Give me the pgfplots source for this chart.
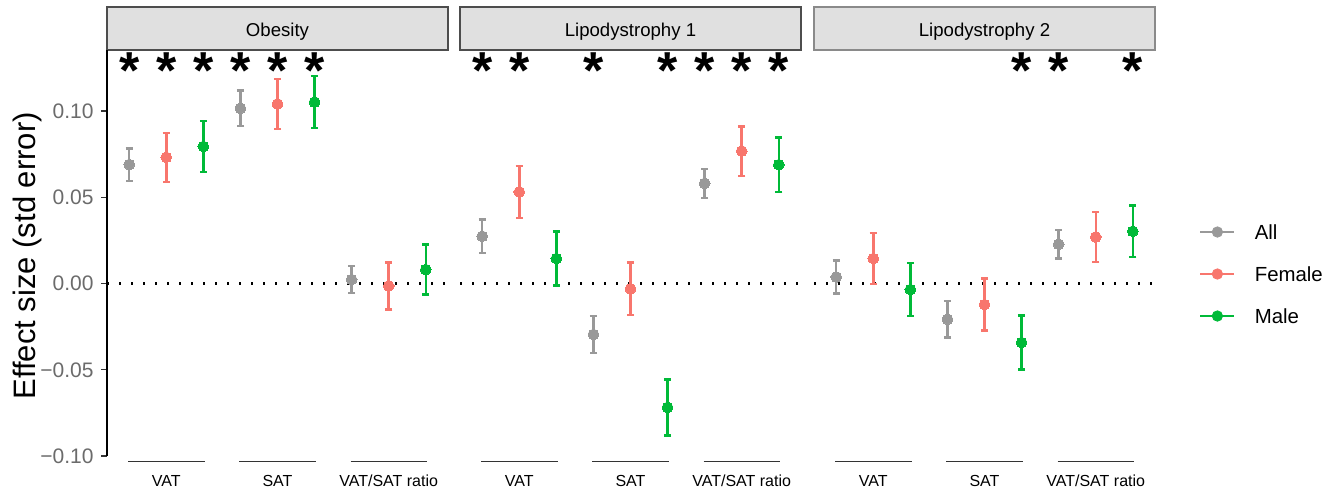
\documentclass[border=0pt]{standalone}
\usepackage{pgfplots}
\pgfplotsset{compat=1.18}
\usepackage{pgfplotstable}
\usepackage{fontspec}
\setmainfont{Liberation Sans}

\definecolor{cAll}{HTML}{999999}
\definecolor{cFemale}{HTML}{F8766D}
\definecolor{cMale}{HTML}{00BA38}
\definecolor{stripfill}{HTML}{E0E0E0}
\definecolor{stripdark}{HTML}{4D4D4D}
\definecolor{striplight}{HTML}{8A8A8A}
\definecolor{ticktext}{HTML}{6B6B6B}
\definecolor{segcol}{HTML}{333333}

% effect size (y) and standard error (e); x = dodged position within the facet
\pgfplotstableread{
x y e
1 0.0690 0.0094
4 0.1016 0.0104
7 0.0023 0.0079
}\obAll
\pgfplotstableread{
x y e
2 0.0732 0.0142
5 0.1041 0.0145
8 -0.0014 0.0137
}\obFemale
\pgfplotstableread{
x y e
3 0.0795 0.0147
6 0.1052 0.0150
9 0.0081 0.0145
}\obMale
\pgfplotstableread{
x y e
1 0.0274 0.0097
4 -0.0295 0.0108
7 0.0581 0.0084
}\lpAAll
\pgfplotstableread{
x y e
2 0.0531 0.0150
5 -0.0031 0.0153
8 0.0768 0.0143
}\lpAFemale
\pgfplotstableread{
x y e
3 0.0145 0.0157
6 -0.0718 0.0162
9 0.0689 0.0158
}\lpAMale
\pgfplotstableread{
x y e
1 0.0038 0.0095
4 -0.0207 0.0107
7 0.0228 0.0082
}\lpBAll
\pgfplotstableread{
x y e
2 0.0145 0.0148
5 -0.0122 0.0151
8 0.0270 0.0144
}\lpBFemale
\pgfplotstableread{
x y e
3 -0.0035 0.0154
6 -0.0342 0.0157
9 0.0303 0.0150
}\lpBMale

% significance markers
\pgfplotstableread{
x y
1 0.1278
2 0.1278
3 0.1278
4 0.1278
5 0.1278
6 0.1278
}\obStar
\pgfplotstableread{
x y
1 0.1278
2 0.1278
4 0.1278
6 0.1278
7 0.1278
8 0.1278
9 0.1278
}\lpAStar
\pgfplotstableread{
x y
6 0.1278
7 0.1278
9 0.1278
}\lpBStar

\pgfplotsset{
  panel/.style={
    scale only axis, width=170.5pt, height=205.85pt, anchor=south west,
    xmin=0.4, xmax=9.6, ymin=-0.1033, ymax=0.1354,
    clip=false,
    axis line style={draw=none},
    xtick={2,5,8}, xticklabels={VAT,SAT,VAT/SAT ratio},
    xtick style={draw=none},
    xticklabel style={font=\fontsize{8}{9.6}\selectfont, text=black, anchor=base, inner sep=0pt, yshift=-9.3pt},
    ytick pos=left, tick align=outside, major tick length=3pt,
    ytick style={segcol, line width=0.6pt},
    yticklabel style={font=\fontsize{10.5}{12}\selectfont, text=ticktext, anchor=east, inner sep=0pt, xshift=-3.5pt},
  },
  est/.style={
    only marks, mark=*, mark size=2.7pt, color=#1,
    mark options={fill=#1, draw=#1, line width=0pt},
    legend image code/.code={\draw[#1, line width=1.4pt] (0pt,0pt) -- (17pt,0pt); \fill[#1] (8.5pt,0pt) circle (2.6pt);},
    error bars/.cd, y dir=both, y explicit,
    error bar style={line width=1.2pt, #1},
    error mark options={rotate=90, mark size=1.8pt, line width=1.2pt, #1},
  },
  star/.style={
    only marks, mark=*, mark size=0pt, mark options={draw=none, fill=none}, forget plot,
    nodes near coords={*},
    every node near coord/.style={font=\fontsize{26}{26}\selectfont\bfseries, text=black, anchor=base, inner sep=0pt, yshift=-12.5pt},
  },
  zeroline/.style={black, line width=1.1pt, dash pattern=on 1.1pt off 4.9pt, forget plot},
}

\newcommand{\groupsegments}{%
  \draw[segcol, line width=0.6pt] (axis cs:0.97,-0.1033) -- (axis cs:3.04,-0.1033);
  \draw[segcol, line width=0.6pt] (axis cs:3.97,-0.1033) -- (axis cs:6.04,-0.1033);
  \draw[segcol, line width=0.6pt] (axis cs:6.97,-0.1033) -- (axis cs:9.04,-0.1033);
}

\begin{document}
\begin{tikzpicture}
\path[use as bounding box] (0pt,0pt) rectangle (668.5pt,247.5pt);

% ---------------- Obesity ----------------
\begin{axis}[panel, at={(53.5pt,16.65pt)},
  ytick={-0.1,-0.05,0,0.05,0.1},
  yticklabels={−0.10,−0.05,0.00,0.05,0.10},
  ylabel={Effect size (std error)},
  ylabel style={at={(axis description cs:-0.2346,0.5)}, anchor=center, font=\fontsize{15.5}{18}\selectfont},
]
\draw[stripdark, fill=stripfill, line width=1.3pt] (rel axis cs:0,1) rectangle (rel axis cs:1,1.1044);
\node[anchor=base, font=\fontsize{9.3}{11}\selectfont, inner sep=0pt] at (rel axis cs:0.5,1.0323) {Obesity};
\draw[black, line width=1pt] (axis cs:0.4,-0.1) -- (axis cs:0.4,0.1354);
\groupsegments
\addplot[zeroline] coordinates {(0.4,0) (9.6,0)};
\addplot[est=cAll] table[x=x, y=y, y error=e] {\obAll};
\addplot[est=cFemale] table[x=x, y=y, y error=e] {\obFemale};
\addplot[est=cMale] table[x=x, y=y, y error=e] {\obMale};
\addplot[star] table[x=x, y=y] {\obStar};
\end{axis}

% ---------------- Lipodystrophy 1 ----------------
\begin{axis}[panel, at={(230pt,16.65pt)}, ytick=\empty]
\draw[stripdark, fill=stripfill, line width=1.3pt] (rel axis cs:0,1) rectangle (rel axis cs:1,1.1044);
\node[anchor=base, font=\fontsize{9.3}{11}\selectfont, inner sep=0pt] at (rel axis cs:0.5,1.0323) {Lipodystrophy 1};
\groupsegments
\addplot[zeroline] coordinates {(0.4,0) (9.6,0)};
\addplot[est=cAll] table[x=x, y=y, y error=e] {\lpAAll};
\addplot[est=cFemale] table[x=x, y=y, y error=e] {\lpAFemale};
\addplot[est=cMale] table[x=x, y=y, y error=e] {\lpAMale};
\addplot[star] table[x=x, y=y] {\lpAStar};
\end{axis}

% ---------------- Lipodystrophy 2 ----------------
\begin{axis}[panel, at={(407pt,16.65pt)}, ytick=\empty,
  legend cell align=left,
  legend style={at={(1.1290,0.4559)}, anchor=west, draw=none, fill=none,
    inner sep=0pt, outer sep=0pt, row sep=13.7pt,
    font=\fontsize{10.2}{12}\selectfont,
    nodes={inner sep=0pt, text height=7.3pt, text depth=0pt},
    /tikz/every odd column/.append style={column sep=9.5pt}},
]
\draw[striplight, fill=stripfill, line width=0.8pt] (rel axis cs:0,1) rectangle (rel axis cs:1,1.1044);
\node[anchor=base, font=\fontsize{9.3}{11}\selectfont, inner sep=0pt] at (rel axis cs:0.5,1.0323) {Lipodystrophy 2};
\groupsegments
\addplot[zeroline] coordinates {(0.4,0) (9.6,0)};
\addplot[est=cAll] table[x=x, y=y, y error=e] {\lpBAll};
\addlegendentry{All}
\addplot[est=cFemale] table[x=x, y=y, y error=e] {\lpBFemale};
\addlegendentry{Female}
\addplot[est=cMale] table[x=x, y=y, y error=e] {\lpBMale};
\addlegendentry{Male}
\addplot[star] table[x=x, y=y] {\lpBStar};
\end{axis}
\end{tikzpicture}
\end{document}
